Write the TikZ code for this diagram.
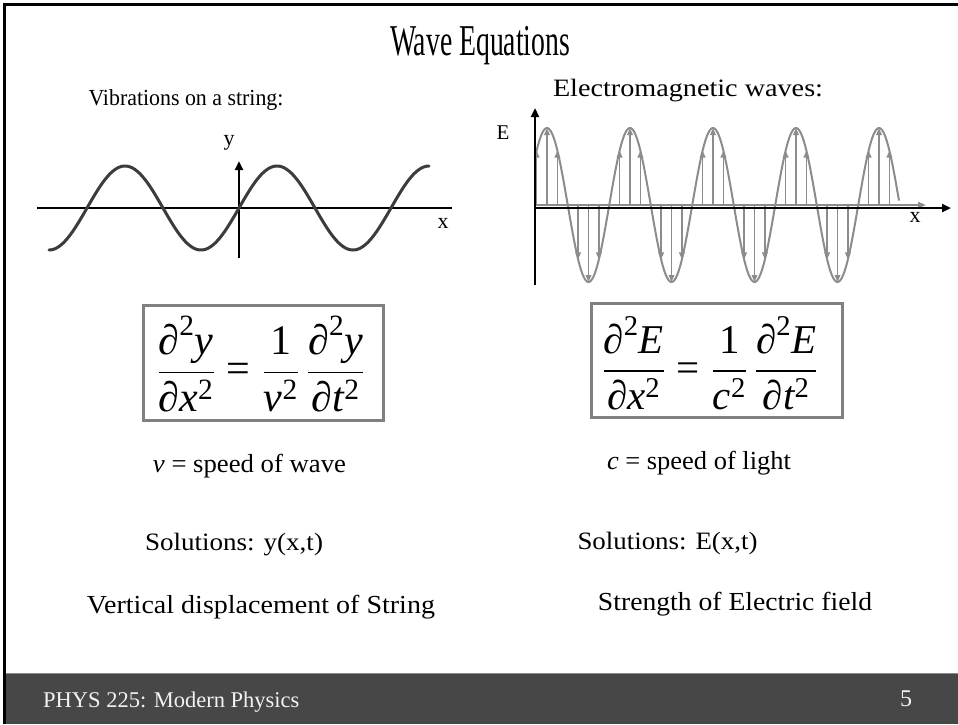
\documentclass[tikz,border=0pt]{standalone}
\usepackage{fix-cm}
\usepackage{amsmath}
\usepackage{graphicx}
\usepackage{fontspec}
\setmainfont{Liberation Serif}
\usetikzlibrary{arrows.meta}
\definecolor{wavegray}{HTML}{8C8C8C}
\definecolor{stringgray}{HTML}{3C3C3C}
\definecolor{boxgray}{HTML}{808080}
\definecolor{footgray}{HTML}{474747}
\definecolor{footline}{HTML}{8A8A8A}
\definecolor{foottext}{HTML}{F2F2F2}
\newcommand\fitw[3]{{\fontsize{#1}{#1}\selectfont\resizebox{#2}{\height}{#3}}}
\newcommand\pd{\text{∂}}
\newcommand\eqL{$\dfrac{\pd^{\text{2}}\textit{y}}{\pd\textit{x}^{\text{2}}}\mathrel{\text{=}}\dfrac{\text{1}}{\textit{v}^{\text{2}}}\,\dfrac{\pd^{\text{2}}\textit{y}}{\pd\textit{t}^{\text{2}}}$}
\newcommand\eqR{$\dfrac{\pd^{\text{2}}\textit{E}}{\pd\textit{x}^{\text{2}}}\mathrel{\text{=}}\dfrac{\text{1}}{\textit{c}^{\text{2}}}\,\dfrac{\pd^{\text{2}}\textit{E}}{\pd\textit{t}^{\text{2}}}$}
\tikzset{
  txt/.style={inner sep=0pt, anchor=center},
  eqbox/.style={draw=boxgray, line width=3pt, inner sep=0pt, anchor=center},
  axis/.style={black, line width=2.5pt},
  axarrow/.style={axis, -{Triangle[length=9pt,width=8pt]}},
  emarrow/.style={wavegray, line width=1.7pt, -{Triangle[length=7pt,width=5.5pt]}},
}
\begin{document}
\begin{tikzpicture}[x=1pt,y=-1pt]
\useasboundingbox (0,0) rectangle (958,724);
\fill[white] (0,0) rectangle (958,724);
% footer
\fill[footgray] (6,673) rectangle (958,724);
\draw[footline, line width=1.2pt] (6,673.5) -- (958,673.5);
% frame
\draw[black, line width=3pt] (4.5,724) -- (4.5,4.5) -- (958,4.5);
% title
\node[txt, anchor=base] (title) at (480,55) {\fitw{44pt}{180pt}{Wave Equations}};
\node[txt] (lefthead) at (186,100) {\fitw{23pt}{195pt}{Vibrations on a string:}};
\node[txt] (righthead) at (688,91) {\fitw{25pt}{270pt}{Electromagnetic waves:}};
% left wave
\draw[axis] (37,208) -- (452,208);
\draw[axarrow] (239,258) -- (239,161);
\draw[stringgray, line width=3pt, line cap=round] plot[domain=49:429, samples=240] (\x, {208-42*sin((\x-239)/152*360)});
\node[txt] (ylab) at (229,143) {\fontsize{22}{22}\selectfont y};
\node[txt] (xlabL) at (443,223) {\fontsize{22}{22}\selectfont x};
% right wave
\draw[wavegray, line width=2pt] plot[domain=535:899, samples=300] (\x, {205-77*cos((\x-547)/83*360)});
\foreach \k in {0,...,4}{
  \foreach \d in {-10.375,0,10.375}{
    \draw[emarrow] (547+83*\k+\d,205) -- (547+83*\k+\d,{205-77*cos(\d/83*360)});
  }
}
\foreach \k in {0,...,3}{
  \foreach \d in {-10.375,0,10.375}{
    \draw[emarrow] (588.5+83*\k+\d,205) -- (588.5+83*\k+\d,{205+77*cos(\d/83*360)});
  }
}
\draw[wavegray, line width=2pt, -{Triangle[length=8pt,width=6pt]}] (535,205) -- (926,205);
\draw[axarrow] (535,208) -- (951,208);
\draw[axarrow] (535,285) -- (535,108);
\node[txt] (elab) at (503,133) {\fontsize{21}{21}\selectfont E};
\node[txt] (xlabR) at (915,217) {\fontsize{22}{22}\selectfont x};
% equations
\node[eqbox, minimum width=240pt, minimum height=115pt] (eqLbox) at (263,362.5) {};
\node[txt] (eqL) at (261,364) {\resizebox{208pt}{!}{\fontsize{30}{30}\selectfont\eqL}};
\node[eqbox, minimum width=251pt, minimum height=114pt] (eqRbox) at (716.5,360) {};
\node[txt] (eqR) at (710,363) {\resizebox{216pt}{!}{\fontsize{30}{30}\selectfont\eqR}};
% texts
\node[txt] (vdef) at (249.5,466) {\fitw{26pt}{193pt}{\textit{v} = speed of wave}};
\node[txt] (cdef) at (699,463) {\fitw{26pt}{184pt}{\textit{c} = speed of light}};
\node[txt] (solL) at (234,545) {\fitw{25pt}{178pt}{Solutions: y(x,t)}};
\node[txt] (solR) at (667.5,543) {\fitw{25pt}{180pt}{Solutions: E(x,t)}};
\node[txt] (meanL) at (261,607) {\fitw{26pt}{348pt}{Vertical displacement of String}};
\node[txt] (meanR) at (735,604) {\fitw{26pt}{274pt}{Strength of Electric field}};
% footer text
\node[txt, anchor=base west, text=foottext] (foot) at (43,707) {\fontsize{22.5}{22.5}\selectfont PHYS 225: Modern Physics};
\node[txt, anchor=base, text=foottext] (page) at (906,706) {\fontsize{24}{24}\selectfont 5};
\end{tikzpicture}
\end{document}
